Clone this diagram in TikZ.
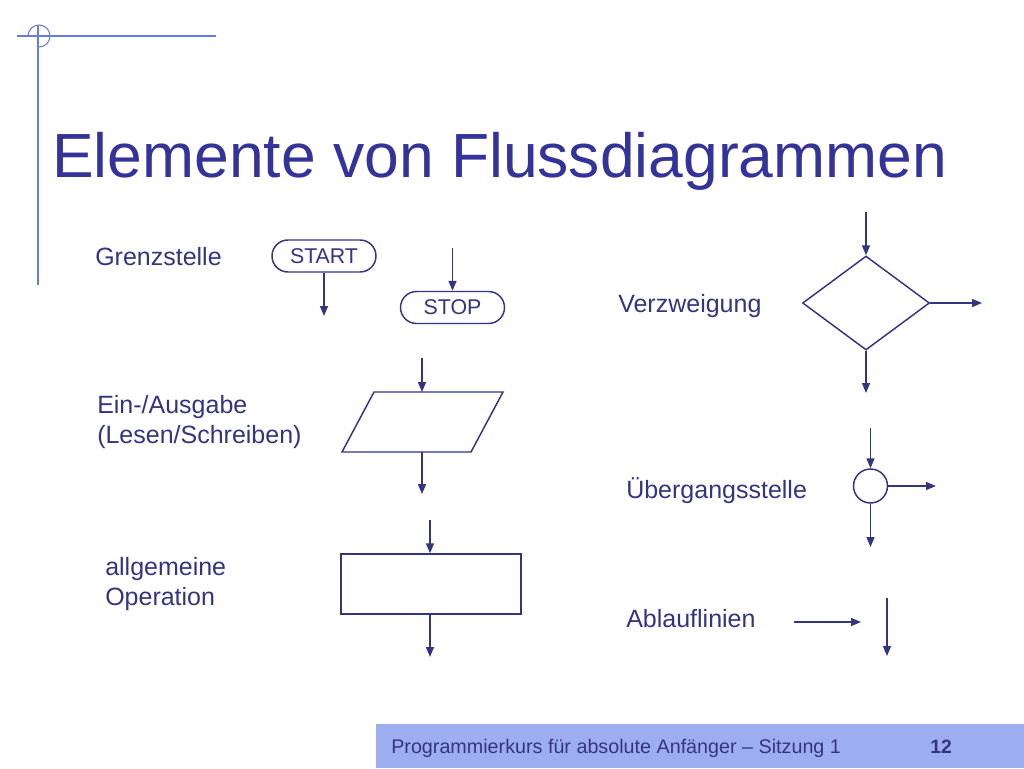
\documentclass[tikz,border=0pt]{standalone}
\usepackage{fontspec}
\setmainfont{Liberation Sans}
\usetikzlibrary{arrows.meta,shapes.geometric}
\definecolor{ink}{HTML}{343580}
\definecolor{titlec}{HTML}{333399}
\definecolor{deco}{HTML}{6A7BE0}
\definecolor{barc}{HTML}{9DAEF0}
\begin{document}
\begin{tikzpicture}[x=0.75pt,y=-0.75pt,
  line/.style={draw=ink, line width=1.1pt},
  flow/.style={line, -{Triangle[length=7.5pt,width=6pt]}},
  lbl/.style={anchor=base west, inner sep=0pt, text=ink, font=\fontsize{18.75}{22}\selectfont},
  pill/.style={line, rectangle, rounded corners=12pt, minimum width=78pt, minimum height=24pt, inner sep=0pt, text=ink, font=\fontsize{16}{19}\selectfont},
  decoline/.style={draw=deco, line width=0.8pt}
]
\useasboundingbox (0,0) rectangle (1024,768);
\fill[white] (0,0) rectangle (1024,768);

% decoration
\draw[decoline] (17,36) -- (216,36);
\draw[decoline] (38,25) -- (38,285);
\draw[decoline] (39,36) ++(0,-8.25pt) arc[start angle=-90,end angle=180,radius=8.25pt];

% title
\node[anchor=base west, inner sep=0pt, text=titlec, font=\fontsize{46.8}{56}\selectfont] (title) at (52,177) {Elemente von Flussdiagrammen};

% labels
\node[lbl] (lgrenz) at (95,265) {Grenzstelle};
\node[lbl] (lein1) at (97,413) {Ein-/Ausgabe};
\node[lbl] (lein2) at (97,443) {(Lesen/Schreiben)};
\node[lbl] (lallg1) at (105,575) {allgemeine};
\node[lbl] (lallg2) at (105,605) {Operation};
\node[lbl] (lverz) at (618,312) {Verzweigung};
\node[lbl] (luebg) at (626,498) {Übergangsstelle};
\node[lbl] (lablauf) at (626,627) {Ablauflinien};

% START / STOP
\node[pill] (start) at (324,256) {START};
\coordinate (startout) at (324,316);
\draw[flow] (start.south) -- (startout);
\node[pill] (stop) at (452.5,307.5) {STOP};
\coordinate (stopin) at (452.5,248);
\draw[flow] (stopin) -- (stop.north);

% parallelogram
\coordinate (pTL) at (374,392);
\coordinate (pTR) at (503,392);
\coordinate (pBR) at (471,452);
\coordinate (pBL) at (342,452);
\draw[line, line join=miter] (pTL) -- (pTR) -- (pBR) -- (pBL) -- cycle;
\coordinate (pT) at (422,392);
\coordinate (pB) at (422,452);
\coordinate (pin) at (422,358);
\coordinate (pout) at (422,494);
\draw[flow] (pin) -- (pT);
\draw[flow] (pB) -- (pout);

% rectangle
\node[line, rectangle, minimum width=135pt, minimum height=45pt, inner sep=0pt] (op) at (431,584) {};
\coordinate (opin) at (430,520);
\coordinate (opout) at (430,657);
\draw[flow] (opin) -- (opin |- op.north);
\draw[flow] (opout |- op.south) -- (opout);

% diamond
\node[line, diamond, minimum width=95.25pt, minimum height=70.5pt, inner sep=0pt] (dec) at (866,303) {};
\coordinate (decin) at (866,212);
\coordinate (decright) at (982,303);
\coordinate (decdown) at (866,393);
\draw[flow] (decin) -- (dec.north);
\draw[flow] (dec.east) -- (decright);
\draw[flow] (dec.south) -- (decdown);

% connector circle
\node[line, circle, minimum size=25.5pt, inner sep=0pt] (conn) at (870.5,486) {};
\coordinate (connin) at (870.5,428);
\coordinate (connright) at (936,486);
\coordinate (conndown) at (870.5,547);
\draw[flow] (connin) -- (conn.north);
\draw[flow] (conn.east) -- (connright);
\draw[flow] (conn.south) -- (conndown);

% flow lines
\coordinate (h1) at (794,622);
\coordinate (h2) at (861,622);
\draw[flow] (h1) -- (h2);
\coordinate (v1) at (887,598);
\coordinate (v2) at (887,656);
\draw[flow] (v1) -- (v2);

% footer
\fill[barc] (376,724) rectangle (1024,768);
\node[anchor=base west, inner sep=0pt, text=ink, font=\fontsize{14.8}{17}\selectfont] (foot) at (391,753) {Programmierkurs für absolute Anfänger – Sitzung 1};
\node[anchor=base west, inner sep=0pt, text=ink, font=\fontsize{14.5}{17}\selectfont\bfseries] (page) at (930,753) {12};
\end{tikzpicture}
\end{document}
